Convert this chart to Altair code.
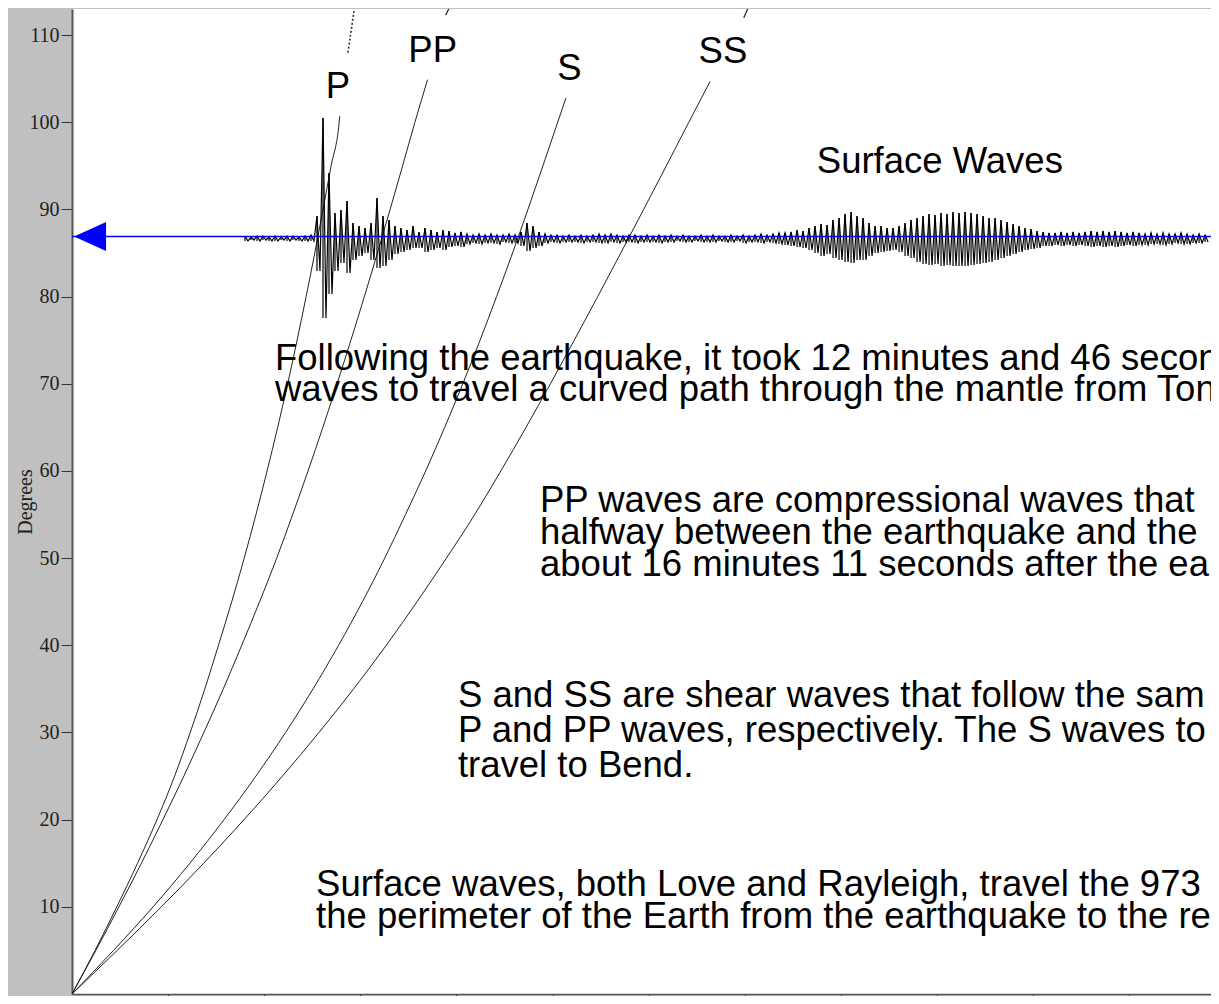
import altair as alt
import pandas as pd

# ---------------- scales / axes ----------------
x_domain = [0, 59.26]          # minutes after the earthquake
y_domain = [0, 113.0]          # epicentral distance, degrees
x_tick_values = [5, 10, 15, 20, 25, 30, 35, 40, 45, 50, 55]
y_tick_values = [10, 20, 30, 40, 50, 60, 70, 80, 90, 100, 110]

# ---------------- travel-time curves (degrees -> minutes) ----------------
deg_grid = [0, 5, 10, 15, 20, 25, 30, 35, 40, 45, 50, 55, 60, 65, 70, 75, 80, 85, 90, 95, 100]
p_times = [0, 1.2, 2.33, 3.41, 4.42, 5.34, 6.15, 6.91, 7.62, 8.31, 8.96, 9.57, 10.15, 10.7,
           11.22, 11.71, 12.18, 12.63, 13.06, 13.48, 13.9]
pp_times = [0, 1.24, 2.44, 3.61, 4.73, 5.82, 6.86, 7.87, 8.83, 9.76, 10.65, 11.48, 12.28, 13.05,
            13.79, 14.51, 15.21, 15.89, 16.55, 17.2, 17.84]
s_times = [0, 2.16, 4.22, 6.13, 7.91, 9.57, 11.11, 12.54, 13.87, 15.11, 16.27, 17.35, 18.4,
           19.39, 20.33, 21.23, 22.09, 22.92, 23.72, 24.5, 25.27]
ss_times = [0, 2.35, 4.65, 6.85, 8.95, 10.95, 12.85, 14.65, 16.35, 17.95, 19.48, 20.95, 22.31,
            23.62, 24.89, 26.13, 27.35, 28.55, 29.74, 30.92, 32.09]
curve_tops = {"P": (100.7, 13.93), "PP": (104.9, 18.5), "S": (102.8, 25.7), "SS": (104.7, 33.2)}

# short continuations above the phase labels
p_ext_deg, p_ext_time = [108.0, 113.5], [14.36, 14.72]
pp_ext_deg, pp_ext_time = [112.3, 113.5], [19.44, 19.72]
ss_ext_deg, ss_ext_time = [112.0, 113.5], [34.95, 35.25]

# ---------------- seismogram (Bend, OR) ----------------
trace_start_min = 9.0
trace_step_min = 0.3122
trace_baseline_deg = 86.73
trace_gain_deg_per_count = 0.1147
trace_up = [2, 1, 2, 2, 1, 2, 1, 2, 2, 1,
            2, 3, 22, 120, 65, 25, 28, 37, 15, 12,
            10, 15, 40, 22, 18, 12, 10, 8, 12, 6,
            10, 8, 6, 8, 7, 5, 6, 4, 3, 4,
            3, 4, 3, 3, 4, 3, 6, 15, 12, 6,
            4, 3, 3, 2, 3, 2, 3, 2, 3, 4,
            3, 4, 3, 2, 3, 3, 2, 3, 2, 3,
            2, 3, 2, 3, 2, 2, 3, 2, 3, 2,
            2, 3, 2, 3, 2, 3, 4, 3, 4, 5,
            5, 6, 8, 7, 10, 12, 14, 13, 18, 20,
            24, 26, 22, 20, 15, 12, 12, 10, 10, 12,
            15, 18, 20, 22, 24, 23, 25, 24, 26, 25,
            26, 25, 24, 22, 20, 20, 18, 16, 14, 12,
            10, 9, 7, 6, 5, 5, 6, 5, 6, 5,
            6, 7, 6, 7, 6, 7, 6, 5, 6, 5,
            4, 5, 4, 5, 4, 4, 5, 4, 3, 4, 3]
trace_down = [3, 2, 3, 2, 3, 3, 2, 3, 2, 3,
              3, 3, 33, 80, 56, 33, 25, 35, 22, 18,
              15, 22, 30, 28, 22, 16, 14, 12, 10, 10,
              14, 12, 10, 12, 9, 8, 9, 6, 5, 6,
              5, 5, 6, 4, 5, 5, 8, 13, 10, 8,
              5, 4, 5, 4, 4, 4, 5, 4, 4, 5,
              5, 4, 5, 4, 4, 5, 4, 4, 4, 5,
              4, 4, 3, 4, 4, 3, 4, 4, 4, 3,
              4, 4, 3, 5, 4, 4, 5, 4, 5, 6,
              7, 8, 9, 10, 12, 15, 18, 16, 20, 22,
              24, 25, 22, 22, 18, 15, 14, 13, 12, 14,
              18, 20, 24, 26, 27, 26, 28, 27, 28, 28,
              28, 27, 26, 25, 24, 22, 20, 18, 16, 14,
              12, 11, 10, 8, 8, 7, 8, 7, 8, 7,
              8, 9, 8, 9, 8, 9, 8, 7, 8, 7,
              7, 6, 6, 7, 6, 5, 6, 6, 5, 5, 4]

arrival_line_deg = 86.9        # blue line marking the station distance
arrow_time = 0.94

# ---------------- annotations ----------------
label_text = ["P", "PP", "S", "SS", "Surface Waves",
              "Following the earthquake, it took 12 minutes and 46 secon",
              "waves to travel a curved path through the mantle from Ton",
              "PP waves are compressional waves that",
              "halfway between the earthquake and the",
              "about 16 minutes 11 seconds after the ea",
              "S and SS are shear waves that follow the sam",
              "P and PP waves, respectively. The S waves to",
              "travel to Bend.",
              "Surface waves, both Love and Rayleigh, travel the 973",
              "the perimeter of the Earth from the earthquake to the re"]
label_time = [13.2, 17.5, 25.25, 32.6, 38.75,
              10.56, 10.56, 24.35, 24.35, 24.35, 20.08, 20.08, 20.08, 12.70, 12.70]
label_deg = [102.8, 106.9, 104.85, 106.8, 94.18,
             71.58, 68.03, 55.3, 51.62, 47.95, 32.92, 28.9, 24.9, 11.24, 7.57]

# ---------------- build tables ----------------
rows = []
def add_segment(name, style, degs, times):
    for k, (d, t) in enumerate(zip(degs, times)):
        rows.append({"seg": name, "style": style, "k": k, "deg": d, "t": t})

for name, times in [("P", p_times), ("PP", pp_times), ("S", s_times), ("SS", ss_times)]:
    top_d, top_t = curve_tops[name]
    add_segment(name, "main", deg_grid + [top_d], times + [top_t])
add_segment("P_ext", "dotted", p_ext_deg, p_ext_time)
add_segment("PP_ext", "stub", pp_ext_deg, pp_ext_time)
add_segment("SS_ext", "stub", ss_ext_deg, ss_ext_time)
curves = pd.DataFrame(rows)

trace_rows = []
bar_rows = []
for i, (u, d) in enumerate(zip(trace_up, trace_down)):
    t = trace_start_min + i * trace_step_min
    hi = trace_baseline_deg + u * trace_gain_deg_per_count
    lo = trace_baseline_deg - d * trace_gain_deg_per_count
    trace_rows.append({"k": 2 * i, "t": t, "deg": hi})
    trace_rows.append({"k": 2 * i + 1, "t": t + trace_step_min / 2, "deg": lo})
    bar_rows.append({"t": t, "hi": hi, "lo": lo})
trace = pd.DataFrame(trace_rows)
bars = pd.DataFrame(bar_rows)

blue = pd.DataFrame({"t": [x_domain[0]], "t2": [x_domain[1]], "deg": [arrival_line_deg]})
arrow = pd.DataFrame({"t": [arrow_time], "deg": [arrival_line_deg]})
labels = pd.DataFrame({"text": label_text, "t": label_time, "deg": label_deg})

xs = alt.Scale(domain=x_domain, nice=False, zero=False)
ys = alt.Scale(domain=y_domain, nice=False, zero=False)

x_axis = alt.Axis(values=x_tick_values, labels=False, tickSize=9, tickColor="#333333",
                  tickWidth=1, domainColor="#555555", domainWidth=1.5, grid=False, title=None)
y_axis = alt.Axis(values=y_tick_values, tickSize=11, tickColor="#333333", tickWidth=1,
                  domainColor="#555555", domainWidth=2, grid=False,
                  labelFont="Liberation Serif", labelFontSize=20, labelColor="#222222",
                  labelPadding=2, title="Degrees", titleFont="Liberation Serif",
                  titleFontSize=20, titleFontWeight="normal", titleColor="#222222",
                  titlePadding=-6)

main_curves = alt.Chart(curves).transform_filter(alt.datum.style == "main").mark_line(
    color="#222222", strokeWidth=1, clip=True, interpolate="monotone").encode(
    x=alt.X("t:Q", scale=xs, axis=x_axis),
    y=alt.Y("deg:Q", scale=ys, axis=y_axis),
    detail="seg:N",
    order="k:Q",
)
stub_curves = alt.Chart(curves).transform_filter(alt.datum.style == "stub").mark_line(
    color="#222222", strokeWidth=1.2, clip=True).encode(
    x=alt.X("t:Q", scale=xs), y=alt.Y("deg:Q", scale=ys), detail="seg:N", order="k:Q")
dotted_curves = alt.Chart(curves).transform_filter(alt.datum.style == "dotted").mark_line(
    color="#333333", strokeWidth=1.6, strokeDash=[2, 2], clip=True).encode(
    x=alt.X("t:Q", scale=xs), y=alt.Y("deg:Q", scale=ys), detail="seg:N", order="k:Q")

trace_layer = alt.Chart(trace).mark_line(color="black", strokeWidth=1.2, clip=True).encode(
    x=alt.X("t:Q", scale=xs), y=alt.Y("deg:Q", scale=ys), order="k:Q")
bar_layer = alt.Chart(bars).mark_rule(color="black", strokeWidth=1.2, clip=True).encode(
    x=alt.X("t:Q", scale=xs), y=alt.Y("hi:Q", scale=ys), y2="lo:Q")

blue_layer = alt.Chart(blue).mark_rule(color="#0000ff", strokeWidth=1.5).encode(
    x=alt.X("t:Q", scale=xs), x2="t2:Q", y=alt.Y("deg:Q", scale=ys))

arrow_layer = alt.Chart(arrow).mark_point(shape="M -1 0 L 1 -0.9 L 1 0.9 Z", size=1024,
                                          filled=True, color="#0000ff", opacity=1,
                                          strokeWidth=0).encode(
    x=alt.X("t:Q", scale=xs), y=alt.Y("deg:Q", scale=ys))

text_layer = alt.Chart(labels).mark_text(align="left", baseline="alphabetic",
                                         font="Liberation Sans", fontSize=36.5,
                                         color="black", clip=True).encode(
    x=alt.X("t:Q", scale=xs), y=alt.Y("deg:Q", scale=ys), text="text:N")

chart = alt.layer(main_curves, stub_curves, dotted_curves, trace_layer, bar_layer,
                  blue_layer, arrow_layer, text_layer).properties(
    width=1139, height=985,
    padding={"left": 64, "top": 1, "right": 0, "bottom": 2},
    autosize=alt.AutoSizeParams(type="none"),
    background="#c0c0c0",
).configure_view(fill="white", strokeWidth=0)

chart.save("out.html", embed_options={"renderer": "svg", "actions": False})
